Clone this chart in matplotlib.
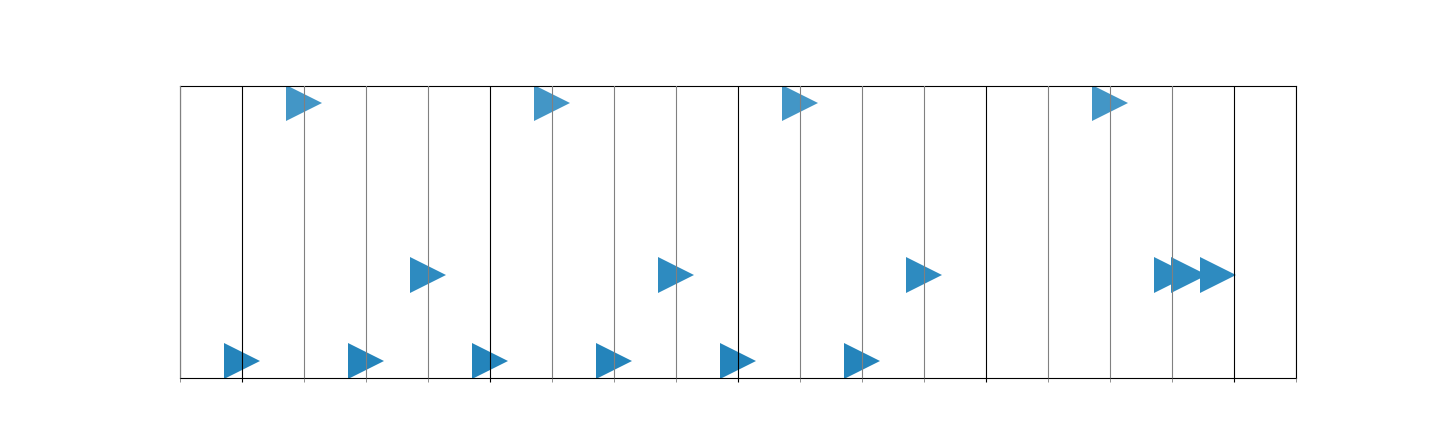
import matplotlib
matplotlib.use("Agg")
import matplotlib.pyplot as plt
from matplotlib.ticker import MultipleLocator, NullFormatter

# event positions per row (x in grid units, row level on y)
TOP_X = [1, 5, 9, 14]
MID_X = [3, 7, 11, 15, 15.27, 15.74]
BOT_X = [0, 2, 4, 6, 8, 10]
ROW_Y = {"top": 3, "mid": 1, "bot": 0}
ROW_COLORS = {"top": "#4396c6", "mid": "#2e8bc0", "bot": "#2484bb"}

fig = plt.figure(figsize=(14.4, 4.32), dpi=100)
ax = fig.add_axes([0.125, 0.125, 0.775, 0.676])

for key, xs in (("bot", BOT_X), ("mid", MID_X), ("top", TOP_X)):
    ax.plot(xs, [ROW_Y[key]] * len(xs), ">", linestyle="none",
            markersize=26, color=ROW_COLORS[key], markeredgewidth=0, zorder=1)

ax.set_xlim(-1, 17)
ax.set_ylim(-0.2, 3.2)

ax.xaxis.set_major_locator(MultipleLocator(4))
ax.xaxis.set_minor_locator(MultipleLocator(1))
ax.xaxis.set_major_formatter(NullFormatter())
ax.set_yticks([])
ax.grid(which="major", axis="x", color="black", linewidth=0.8, zorder=3)
ax.grid(which="minor", axis="x", color="grey", linewidth=0.8, zorder=3)
ax.set_axisbelow(False)
ax.tick_params(which="major", length=3, color="black")
ax.tick_params(which="minor", length=3, color="grey")

fig.savefig("out.png", dpi=100)
